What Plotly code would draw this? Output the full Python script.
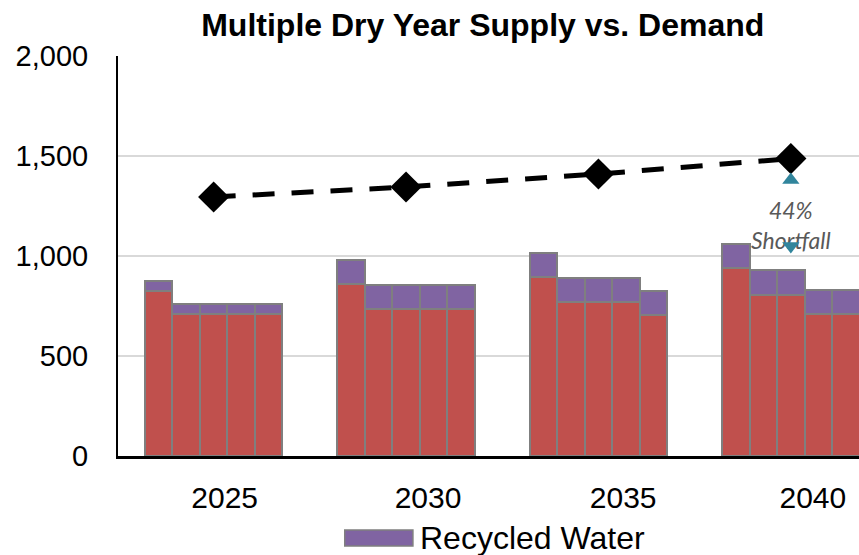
import plotly.graph_objects as go

# Supply by scenario year (5 consecutive dry years per planning year)
years = ["2025", "2030", "2035", "2040"]
base_supply = [
    [825, 710, 710, 710, 710],
    [858, 735, 735, 735, 735],
    [895, 768, 768, 768, 703],
    [940, 807, 807, 710, 710],
]
recycled_water = [
    [52, 48, 48, 48, 48],
    [120, 120, 120, 120, 120],
    [122, 120, 120, 120, 120],
    [122, 123, 123, 122, 122],
]
demand = [1295, 1345, 1410, 1487]
shortfall_top = 1380
shortfall_bottom = 1050
shortfall_label = "<i>44%<br>Shortfall</i>"
y_ticks = [0, 500, 1000, 1500, 2000]

SLOTS = 7          # bar slots per planning year (5 bars + 2 gap)
MID = 2            # slot index of the middle bar in each group

RED = "#C0504D"
PURPLE = "#8064A2"
EDGE = "#7F7F7F"
TEAL = "#31859C"
FONT = "Liberation Sans, Arial, sans-serif"

bar_x, red_y, purple_y = [], [], []
for g in range(len(years)):
    for i, (r, p) in enumerate(zip(base_supply[g], recycled_water[g])):
        bar_x.append(g * SLOTS + i)
        red_y.append(r)
        purple_y.append(p)

demand_x = [g * SLOTS + MID for g in range(len(years))]

fig = go.Figure()
fig.add_trace(go.Bar(
    x=bar_x, y=red_y, name="Local Supply", width=1.0,
    marker=dict(color=RED, line=dict(color=EDGE, width=2)),
    showlegend=False,
))
fig.add_trace(go.Bar(
    x=bar_x, y=purple_y, name="Recycled Water", width=1.0,
    marker=dict(color=PURPLE, line=dict(color=EDGE, width=2)),
    showlegend=False,
))
fig.add_trace(go.Scatter(
    x=demand_x, y=demand, mode="lines+markers", name="Demand",
    line=dict(color="black", width=5, dash="22px,17px"),
    marker=dict(symbol="diamond", size=24, color="black"),
    showlegend=False,
))
# Shortfall label, drawn beneath its arrows
fig.add_trace(go.Scatter(
    x=[demand_x[-1]], y=[(shortfall_top + shortfall_bottom) / 2 - 75],
    mode="text", text=[shortfall_label], textposition="middle center",
    textfont=dict(family="Lato, sans-serif", size=23, color="#595959"),
    showlegend=False, hoverinfo="skip",
))
fig.add_trace(go.Scatter(
    x=[demand_x[-1]], y=[shortfall_top], mode="markers",
    marker=dict(symbol="triangle-up", size=15, color=TEAL),
    showlegend=False, hoverinfo="skip",
))
fig.add_trace(go.Scatter(
    x=[demand_x[-1]], y=[shortfall_bottom], mode="markers",
    marker=dict(symbol="triangle-down", size=15, color=TEAL),
    showlegend=False, hoverinfo="skip",
))

# Legend entry for recycled water
fig.add_shape(type="rect", xref="paper", yref="paper",
              x0=0.306, x1=0.398, y0=-0.225, y1=-0.185,
              fillcolor=PURPLE, line=dict(color=EDGE, width=1.5))
fig.add_annotation(xref="paper", yref="paper", x=0.405, y=-0.205,
                   xanchor="left", yanchor="middle", showarrow=False,
                   text="Recycled Water",
                   font=dict(family=FONT, size=32, color="black"))

label_shift = [0.4, 0.8, 0.9, 0.8]
fig.update_layout(
    width=859, height=555,
    margin=dict(l=118, r=0, t=56, b=99),
    paper_bgcolor="white", plot_bgcolor="white",
    barmode="stack", bargap=0,
    title=dict(text="<b>Multiple Dry Year Supply vs. Demand</b>",
               x=0.562, xanchor="center", y=0.955, yanchor="middle",
               xref="container", yref="container",
               font=dict(family=FONT, size=32, color="black")),
    xaxis=dict(range=[-1.48, 25.48], showgrid=False, zeroline=False,
               tickmode="array",
               tickvals=[g * SLOTS + MID + s for g, s in enumerate(label_shift)],
               ticktext=years, ticks="", showline=True, linecolor="black",
               linewidth=3, ticklabelstandoff=13,
               tickfont=dict(family=FONT, size=30, color="black")),
    yaxis=dict(range=[0, 2000], tickvals=y_ticks, tickformat=",",
               showgrid=True, gridcolor="#D9D9D9", gridwidth=2,
               zeroline=False, showline=True, linecolor="black", linewidth=2,
               ticks="", ticklabelstandoff=22,
               tickfont=dict(family=FONT, size=29, color="black")),
)

fig.write_html("out.html")
